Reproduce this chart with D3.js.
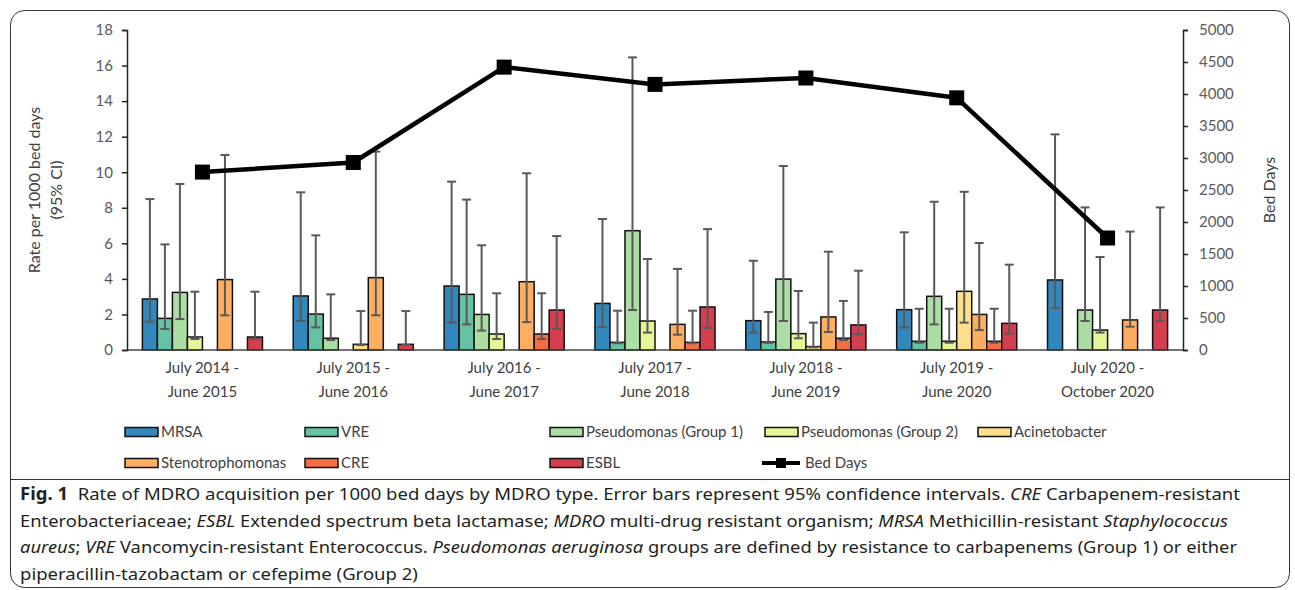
<!DOCTYPE html>
<html>
<head>
<meta charset="utf-8">
<script src="https://cdn.jsdelivr.net/npm/d3@7"></script>
<style>
  body { margin: 0; background: #fff; }
  svg { display: block; }
</style>
</head>
<body>
<svg id="chart" width="1295" height="590"></svg>
<script>
// Study periods (two-line category labels)
const periods = [
  ["July 2014 -", "June 2015"],
  ["July 2015 -", "June 2016"],
  ["July 2016 -", "June 2017"],
  ["July 2017 -", "June 2018"],
  ["July 2018 -", "June 2019"],
  ["July 2019 -", "June 2020"],
  ["July 2020 -", "October 2020"]
];

const seriesNames = ["MRSA", "VRE", "Pseudomonas (Group 1)", "Pseudomonas (Group 2)",
  "Acinetobacter", "Stenotrophomonas", "CRE", "ESBL"];
const seriesColors = ["#3288bd", "#66c2a5", "#abdda4", "#e6f598",
  "#fee08b", "#fdae61", "#f46d43", "#d53e4f"];

// Acquisition rate per 1000 bed days, with 95% CI bounds (null = no cases)
const mrsaRate = [2.87, 3.04, 3.60, 2.62, 1.65, 2.27, 3.94];
const mrsaLow  = [1.59, 1.63, 1.54, 1.29, 0.98, 1.26, 2.34];
const mrsaHigh = [8.49, 8.87, 9.47, 7.37, 5.02, 6.62, 12.13];

const vreRate = [1.78, 2.02, 3.13, 0.43, 0.45, 0.49, 0];
const vreLow  = [1.18, 1.27, 1.44, 0.38, 0.40, 0.41, null];
const vreHigh = [5.94, 6.45, 8.46, 2.21, 2.14, 2.32, null];

const pseudo1Rate = [3.24, 0.66, 2.00, 6.71, 3.99, 3.02, 2.25];
const pseudo1Low  = [1.74, 0.56, 1.09, 2.25, 1.63, 1.44, 1.63];
const pseudo1High = [9.34, 3.13, 5.89, 16.46, 10.35, 8.34, 8.02];

const pseudo2Rate = [0.73, 0, 0.90, 1.63, 0.92, 0.49, 1.12];
const pseudo2Low  = [0.62, null, 0.62, 0.98, 0.66, 0.41, 0.98];
const pseudo2High = [3.28, null, 3.19, 5.12, 3.32, 2.32, 5.23];

const acinetoRate = [0, 0.32, 0, 0, 0.19, 3.30, 0];
const acinetoLow  = [null, 0.28, null, null, 0.15, 1.54, null];
const acinetoHigh = [null, 2.19, null, null, 1.54, 8.90, null];

const stenoRate = [3.96, 4.07, 3.84, 1.44, 1.86, 2.00, 1.69];
const stenoLow  = [1.95, 1.95, 1.57, 0.86, 1.01, 1.12, 1.31];
const stenoHigh = [10.97, 11.16, 9.94, 4.56, 5.53, 6.02, 6.66];

const creRate = [0, 0, 0.90, 0.43, 0.66, 0.49, 0];
const creLow  = [null, null, 0.62, 0.38, 0.56, 0.41, null];
const creHigh = [null, null, 3.19, 2.21, 2.76, 2.32, null];

const esblRate = [0.73, 0.32, 2.25, 2.42, 1.41, 1.50, 2.25];
const esblLow  = [0.62, 0.28, 1.18, 1.24, 0.88, 0.92, 1.63];
const esblHigh = [3.28, 2.19, 6.41, 6.80, 4.46, 4.80, 8.02];

const bedDays = [2780, 2930, 4420, 4150, 4250, 3940, 1750];

const leftTicks = [0, 2, 4, 6, 8, 10, 12, 14, 16, 18];
const rightTicks = [0, 500, 1000, 1500, 2000, 2500, 3000, 3500, 4000, 4500, 5000];

const rates = [mrsaRate, vreRate, pseudo1Rate, pseudo2Rate, acinetoRate, stenoRate, creRate, esblRate];
const lows  = [mrsaLow, vreLow, pseudo1Low, pseudo2Low, acinetoLow, stenoLow, creLow, esblLow];
const highs = [mrsaHigh, vreHigh, pseudo1High, pseudo2High, acinetoHigh, stenoHigh, creHigh, esblHigh];

const svg = d3.select("#chart");
const axisFont = "Lato, 'Open Sans', sans-serif";
const textGrey = "#404040";

// Frame around figure and caption
svg.append("rect")
  .attr("x", 10.5).attr("y", 10.5).attr("width", 1279).attr("height", 577)
  .attr("rx", 14).attr("ry", 14)
  .attr("fill", "none").attr("stroke", "#333").attr("stroke-width", 1);
svg.append("line")
  .attr("x1", 10.5).attr("x2", 1289.5).attr("y1", 479.5).attr("y2", 479.5)
  .attr("stroke", "#333").attr("stroke-width", 1);

const plot = { left: 127, right: 1183, top: 30, bottom: 350 };

const x0 = d3.scaleBand().domain(d3.range(periods.length)).range([plot.left, plot.right]);
const bw = x0.bandwidth();
const x1 = d3.scaleBand().domain(d3.range(seriesNames.length)).range([bw * 0.102, bw * 0.898]);
const yL = d3.scaleLinear().domain([0, 18]).range([plot.bottom, plot.top]);
const yR = d3.scaleLinear().domain([0, 5000]).range([plot.bottom, plot.top]);

// Bars
const bars = [];
const errs = [];
rates.forEach((arr, s) => arr.forEach((v, i) => {
  if (v > 0) bars.push({ s, i, v });
  if (lows[s][i] != null) errs.push({ s, i, lo: lows[s][i], hi: highs[s][i] });
}));

svg.append("g").selectAll("rect").data(bars).join("rect")
  .attr("x", d => x0(d.i) + x1(d.s))
  .attr("y", d => yL(d.v))
  .attr("width", x1.bandwidth())
  .attr("height", d => yL(0) - yL(d.v))
  .attr("fill", d => seriesColors[d.s])
  .attr("stroke", "#111").attr("stroke-width", 1.5);

// Error bars (95% CI)
const eg = svg.append("g").attr("stroke", "#595959").attr("stroke-width", 2);
errs.forEach(d => {
  const cx = x0(d.i) + x1(d.s) + x1.bandwidth() / 2;
  eg.append("line").attr("x1", cx).attr("x2", cx).attr("y1", yL(d.lo)).attr("y2", yL(d.hi));
  eg.append("line").attr("x1", cx - 4.5).attr("x2", cx + 4.5).attr("y1", yL(d.hi)).attr("y2", yL(d.hi));
  eg.append("line").attr("x1", cx - 4.5).attr("x2", cx + 4.5).attr("y1", yL(d.lo)).attr("y2", yL(d.lo));
});

// Category baseline
svg.append("line")
  .attr("x1", plot.left).attr("x2", plot.right)
  .attr("y1", yL(0)).attr("y2", yL(0))
  .attr("stroke", "#444").attr("stroke-width", 1.5);

// Left axis
const gL = svg.append("g").attr("transform", `translate(${plot.left},0)`)
  .call(d3.axisLeft(yL).tickValues(leftTicks).tickSize(5).tickPadding(9));
// Right axis
const gR = svg.append("g").attr("transform", `translate(${plot.right},0)`)
  .call(d3.axisRight(yR).tickValues(rightTicks).tickFormat(d3.format("d")).tickSize(5).tickPadding(11));
[gL, gR].forEach(g => {
  g.select(".domain").attr("stroke", "#222").attr("stroke-width", 1.5);
  g.selectAll(".tick line").attr("stroke", "#222").attr("stroke-width", 1.5);
  g.selectAll(".tick text").attr("fill", "#595959")
    .style("font-family", axisFont).style("font-size", "15px");
});

// Category labels
const catG = svg.append("g").style("font-family", axisFont).style("font-size", "15px")
  .attr("fill", textGrey).attr("text-anchor", "middle");
periods.forEach((p, i) => {
  const cx = x0(i) + bw / 2;
  catG.append("text").attr("x", cx).attr("y", 373).text(p[0]);
  catG.append("text").attr("x", cx).attr("y", 397).text(p[1]);
});

// Axis titles
const yTitle = svg.append("g").style("font-family", axisFont).style("font-size", "16px")
  .attr("fill", textGrey).attr("text-anchor", "middle");
yTitle.append("text").attr("transform", "translate(40,190) rotate(-90)").text("Rate per 1000 bed days");
yTitle.append("text").attr("transform", "translate(62,190) rotate(-90)").text("(95% CI)");
yTitle.append("text").attr("transform", "translate(1275,190) rotate(-90)").text("Bed Days");

// Bed days line with square markers
const cxs = bedDays.map((_, i) => x0(i) + bw / 2);
const line = d3.line().x((d, i) => cxs[i]).y(d => yR(d));
svg.append("path").datum(bedDays)
  .attr("d", line).attr("fill", "none")
  .attr("stroke", "#000").attr("stroke-width", 4.5).attr("stroke-linejoin", "round");
svg.append("g").selectAll("rect").data(bedDays).join("rect")
  .attr("x", (d, i) => cxs[i] - 7.5).attr("y", d => yR(d) - 7.5)
  .attr("width", 15).attr("height", 15).attr("fill", "#000");

// Legend
const legendItems = [
  { s: 0, x: 125, y: 432 }, { s: 1, x: 305, y: 432 }, { s: 2, x: 550, y: 432 },
  { s: 3, x: 765, y: 432 }, { s: 4, x: 978, y: 432 },
  { s: 5, x: 125, y: 463 }, { s: 6, x: 305, y: 463 }, { s: 7, x: 550, y: 463 }
];
const lg = svg.append("g").style("font-family", axisFont).style("font-size", "15px").attr("fill", textGrey);
legendItems.forEach(it => {
  lg.append("rect").attr("x", it.x).attr("y", it.y - 4.5).attr("width", 33).attr("height", 9)
    .attr("fill", seriesColors[it.s]).attr("stroke", "#111").attr("stroke-width", 1.5);
  lg.append("text").attr("x", it.x + 36).attr("y", it.y + 5).text(seriesNames[it.s]);
});
lg.append("line").attr("x1", 762).attr("x2", 800).attr("y1", 463).attr("y2", 463)
  .attr("stroke", "#000").attr("stroke-width", 4);
lg.append("rect").attr("x", 776).attr("y", 458).attr("width", 10).attr("height", 10).attr("fill", "#000");
lg.append("text").attr("x", 805).attr("y", 468).text("Bed Days");

// Caption, slightly condensed so each full line fits its measure
const capLines = [
  [["Fig. 1", "b"], ["  Rate of MDRO acquisition per 1000 bed days by MDRO type. Error bars represent 95% confidence intervals. ", "n"], ["CRE", "i"], [" Carbapenem-resistant", "n"]],
  [["Enterobacteriaceae; ", "n"], ["ESBL", "i"], [" Extended spectrum beta lactamase; ", "n"], ["MDRO", "i"], [" multi-drug resistant organism; ", "n"], ["MRSA", "i"], [" Methicillin-resistant ", "n"], ["Staphylococcus", "i"]],
  [["aureus", "i"], ["; ", "n"], ["VRE", "i"], [" Vancomycin-resistant Enterococcus. ", "n"], ["Pseudomonas aeruginosa", "i"], [" groups are defined by resistance to carbapenems (Group 1) or either", "n"]],
  [["piperacillin-tazobactam or cefepime (Group 2)", "n"]]
];
const capWidths = [1220, 1208, 1217, null];
const capG = svg.append("g").style("font-family", "'Noto Sans', sans-serif").style("font-size", "17px").attr("fill", "#231f20");
const capTexts = capLines.map((ln, k) => {
  const t = capG.append("text").attr("x", 20).attr("y", 500 + k * 26.5)
    .attr("xml:space", "preserve").style("white-space", "pre");
  ln.forEach(([str, st]) => {
    const sp = t.append("tspan").text(str);
    if (st === "b") sp.attr("font-weight", "bold");
    if (st === "i") sp.attr("font-style", "italic");
  });
  return t;
});
const squeeze = 1220 / capTexts[0].node().getComputedTextLength();
capTexts.forEach((t, k) => {
  const w = capWidths[k] != null ? capWidths[k] : t.node().getComputedTextLength() * squeeze;
  t.attr("textLength", w).attr("lengthAdjust", "spacingAndGlyphs");
});
</script>
</body>
</html>
